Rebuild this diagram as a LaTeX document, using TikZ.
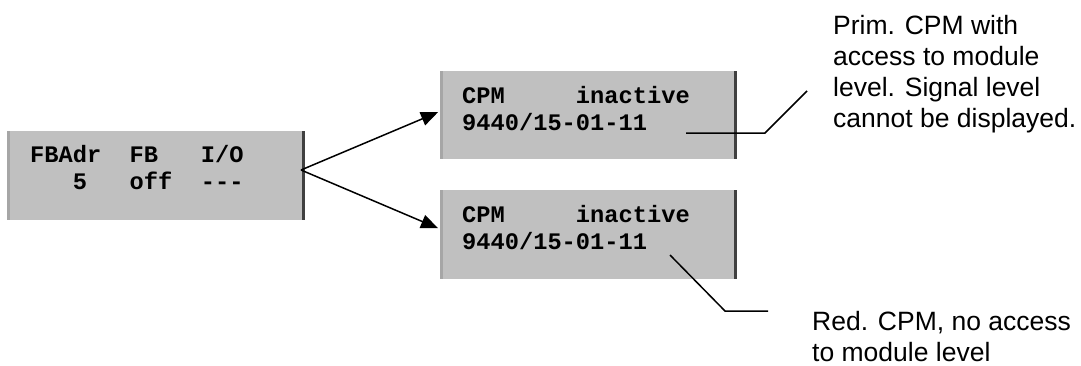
\documentclass[tikz,border=0pt]{standalone}
\usepackage{fontspec}
\setmainfont{Liberation Sans}
\newfontfamily\lcdfont[WordSpace={1,0,0}]{Liberation Mono}
\usetikzlibrary{arrows.meta}
\definecolor{boxgray}{HTML}{C0C0C0}
\definecolor{edgedark}{HTML}{404040}
\definecolor{edgelight}{HTML}{A6A6A6}
\tikzset{
  lcdbox/.style={fill=boxgray, draw=none, inner sep=0pt, anchor=north west},
  rightedge/.style={draw=edgedark, line width=3pt},
  leftedge/.style={draw=edgelight, line width=2.5pt},
  lcdtext/.style={inner sep=0pt, anchor=base west, align=left,
    font=\lcdfont\bfseries\fontsize{23.7pt}{27pt}\selectfont},
  note/.style={inner sep=0pt, anchor=base west, align=left,
    font=\fontsize{26.5pt}{31pt}\selectfont},
  arr/.style={line width=1.5pt, -{Triangle[length=17pt,width=14pt]}},
  callout/.style={line width=1.5pt}
}
\begin{document}
\begin{tikzpicture}[x=1pt,y=-1pt]
\useasboundingbox (0,0) rectangle (1081,365);
% boxes
\node[lcdbox, minimum width=298pt, minimum height=89pt] (L) at (7,131) {};
\node[lcdbox, minimum width=297pt, minimum height=88pt] (T) at (440,71) {};
\node[lcdbox, minimum width=297pt, minimum height=89pt] (B) at (440,190) {};
\foreach \b in {L,T,B}{
  \draw[rightedge] ([xshift=-1.5pt]\b.north east) -- ([xshift=-1.5pt]\b.south east);
  \draw[leftedge] ([xshift=1.25pt]\b.north west) -- ([xshift=1.25pt]\b.south west);
}
% box texts (anchor = baseline of the last line)
\node[lcdtext] (Ltxt) at (30,189) {FBAdr~~FB~~~I/O\\~~~5~~~off~~---};
\node[lcdtext] (Ttxt) at (462,130) {CPM~~~~~inactive\\9440/15-01-11};
\node[lcdtext] (Btxt) at (462,249) {CPM~~~~~inactive\\9440/15-01-11};
% arrows
\coordinate (fork) at (301,170);
\draw[arr] (fork) -- ([xshift=-2pt,yshift=3pt]T.west);
\draw[arr] (fork) -- ([xshift=-2pt,yshift=6.5pt]B.west);
% notes
\node[note] (Tnote) at (833,127) {Prim. CPM with\\access to module\\level. Signal level\\cannot be displayed.};
\node[note] (Bnote) at (812,361) {Red. CPM, no access\\to module level};
% callouts
\coordinate (ta) at (686,133);
\coordinate (tb) at (765,133);
\coordinate (tc) at (807,91);
\draw[callout] (ta) -- (tb) -- (tc);
\coordinate (ba) at (670,255);
\coordinate (bb) at (725,311);
\coordinate (bc) at (768,311);
\draw[callout] (ba) -- (bb) -- (bc);
\end{tikzpicture}
\end{document}
